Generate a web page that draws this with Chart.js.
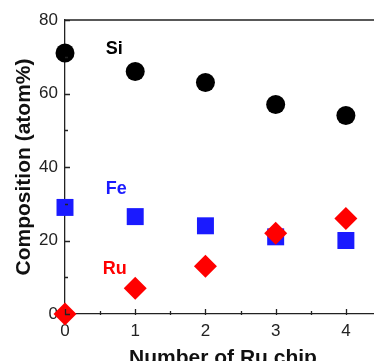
<!DOCTYPE html>
<html>
<head>
<meta charset="utf-8">
<script src="https://cdn.jsdelivr.net/npm/chart.js@4"></script>
<style>
    html, body { margin: 0; padding: 0; background: #fff; overflow: hidden; }
    #wrap { width: 381px; height: 361px; }
</style>
</head>
<body>
<div id="wrap"><canvas id="grafico" width="381" height="361"></canvas></div>
<script>
// Dados
const chips = [0, 1, 2, 3, 4];
const si = [71, 66, 63, 57, 54];
const fe = [29, 26.5, 24, 21, 20];
const ru = [0, 7, 13, 22, 26];

// Rótulos dentro do gráfico (posição em unidades de dados)
const rotulos = [
    { texto: 'Si', x: 0.7, y: 72, cor: '#000000' },
    { texto: 'Fe', x: 0.73, y: 34, cor: '#1a1aff' },
    { texto: 'Ru', x: 0.71, y: 12.2, cor: '#ff0000' },
];

function pontos(valores) {
    return chips.map((c, i) => ({ x: c, y: valores[i] }));
}

const fonte = "'Liberation Sans', Arial, sans-serif";

// Moldura superior, ticks internos e rótulos de texto
const extras = {
    id: 'extras',
    afterDraw(chart) {
        const ctx = chart.ctx;
        const area = chart.chartArea;
        const sx = chart.scales.x;
        const sy = chart.scales.y;
        ctx.save();
        ctx.strokeStyle = '#222';
        ctx.lineWidth = 1.3;
        ctx.beginPath();
        ctx.moveTo(area.left, area.top);
        ctx.lineTo(area.right, area.top);
        // ticks do eixo Y (para dentro)
        for (let v = 0; v <= 80; v += 10) {
            const py = Math.round(sy.getPixelForValue(v)) + 0.5;
            const len = v % 20 === 0 ? 5 : 3;
            ctx.moveTo(area.left, py);
            ctx.lineTo(area.left + len, py);
        }
        // ticks do eixo X (para dentro)
        for (let v = 0; v <= 4.5; v += 0.5) {
            const px = Math.round(sx.getPixelForValue(v)) + 0.5;
            const len = v % 1 === 0 ? 5 : 3;
            ctx.moveTo(px, area.bottom + 1);
            ctx.lineTo(px, area.bottom - len);
        }
        ctx.stroke();
        ctx.restore();
    },
    afterDatasetsDraw(chart) {
        const ctx = chart.ctx;
        const sx = chart.scales.x;
        const sy = chart.scales.y;
        ctx.save();
        ctx.font = 'bold 18px ' + fonte;
        ctx.textAlign = 'center';
        ctx.textBaseline = 'middle';
        rotulos.forEach(r => {
            ctx.fillStyle = r.cor;
            ctx.fillText(r.texto, sx.getPixelForValue(r.x), sy.getPixelForValue(r.y));
        });
        ctx.restore();
    }
};

const ctx = document.getElementById('grafico').getContext('2d');
new Chart(ctx, {
    type: 'scatter',
    data: {
        datasets: [
            {
                label: 'Si',
                data: pontos(si),
                pointStyle: 'circle',
                pointRadius: 9.5,
                backgroundColor: '#000000',
                borderColor: '#000000',
                borderWidth: 0,
                clip: false,
            },
            {
                label: 'Ru',
                data: pontos(ru),
                pointStyle: 'rectRot',
                pointRadius: 11.5,
                backgroundColor: '#ff0000',
                borderColor: '#ff0000',
                borderWidth: 0,
                clip: false,
            },
            {
                label: 'Fe',
                data: pontos(fe),
                pointStyle: 'rect',
                pointRadius: 12,
                backgroundColor: '#1a1aff',
                borderColor: '#1a1aff',
                borderWidth: 0,
                clip: false,
            },
        ],
    },
    options: {
        responsive: false,
        animation: false,
        events: [],
        layout: { autoPadding: false, padding: { top: 20, right: 0, left: 0, bottom: 0 } },
        plugins: {
            legend: { display: false },
            tooltip: { enabled: false },
        },
        scales: {
            x: {
                type: 'linear',
                min: 0,
                max: 4.5,
                afterFit: (scale) => {
                    scale.height = 47;
                    scale.paddingLeft = 0;
                    scale.paddingRight = 0;
                },
                grid: { drawOnChartArea: false, drawTicks: false },
                border: { color: '#222', width: 1.3 },
                ticks: {
                    stepSize: 1,
                    includeBounds: false,
                    padding: 7,
                    autoSkip: false,
                    maxRotation: 0,
                    color: '#222',
                    font: { family: fonte, size: 17 },
                },
                title: {
                    display: true,
                    text: 'Number of Ru chip',
                    color: '#111',
                    font: { family: fonte, size: 21, weight: 'bold', lineHeight: 0.25 },
                    padding: { top: 0, bottom: 0 },
                },
            },
            y: {
                min: 0,
                max: 80,
                afterFit: (scale) => { scale.width = 65; },
                grid: { drawOnChartArea: false, drawTicks: false },
                border: { color: '#222', width: 1.3 },
                ticks: {
                    stepSize: 20,
                    padding: 7,
                    color: '#222',
                    font: { family: fonte, size: 17 },
                },
                title: {
                    display: true,
                    text: 'Composition (atom%)',
                    color: '#111',
                    font: { family: fonte, size: 21, weight: 'bold' },
                    padding: { top: 12, bottom: 0 },
                },
            },
        },
    },
    plugins: [extras],
});
</script>
</body>
</html>
